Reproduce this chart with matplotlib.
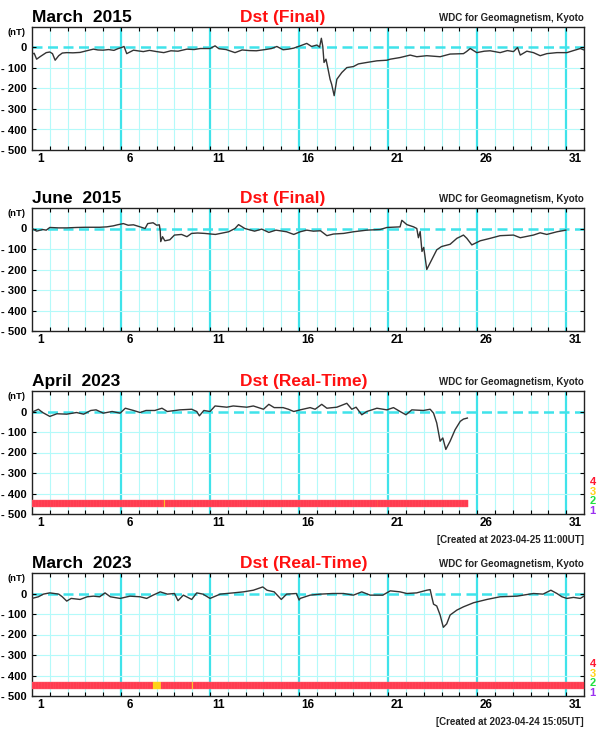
import matplotlib
matplotlib.use('Agg')
import matplotlib.pyplot as plt
import numpy as np

plt.rcParams['font.family'] = ['Liberation Sans', 'DejaVu Sans']
plt.rcParams['font.weight'] = 'bold'

# (day of month, Dst nT)
mar15 = [(1.0, -33), (1.12, -28), (1.26, -57), (1.45, -45), (1.8, -25), (2.0, -22), (2.15, -30),
         (2.3, -62), (2.5, -40), (2.7, -27), (2.95, -25), (3.3, -26), (3.7, -24), (4.07, -16),
         (4.45, -8), (4.7, -12), (5.0, -13), (5.3, -10), (5.6, -14), (5.85, -5), (6.03, 0), (6.17, 5),
         (6.32, -30), (6.7, -13), (7.0, -17), (7.25, -20), (7.6, -14), (8.0, -20), (8.4, -25),
         (8.8, -16), (9.2, -18), (9.7, -8), (10.1, -10), (10.45, -5), (11.0, -5), (11.28, 8),
         (11.5, -6), (11.9, -10), (12.4, -25), (12.8, -12), (13.2, -15), (13.6, -16), (14.1, -10),
         (14.45, -5), (14.75, 5), (15.1, -11), (15.4, -8), (15.7, -3), (16.06, 8), (16.43, 20),
         (16.7, 5), (17.0, 12), (17.15, 2), (17.25, 45), (17.33, 5), (17.4, -73), (17.51, -57),
         (17.59, -90), (17.74, -155), (17.83, -180), (17.97, -235), (18.12, -155), (18.4, -122),
         (18.68, -98), (19.05, -93), (19.33, -80), (19.8, -73), (20.37, -65), (20.93, -62),
         (21.12, -57), (21.67, -49), (22.24, -37), (22.61, -45), (23.17, -40), (23.92, -45),
         (24.48, -32), (25.23, -30), (25.4, -20), (25.61, -5), (25.98, -25), (26.4, -18),
         (26.73, -16), (27.29, -25), (27.7, -15), (28.04, -20), (28.27, 0), (28.42, -37),
         (28.79, -18), (29.16, -25), (29.54, -40), (29.91, -30), (30.48, -25), (31.04, -25),
         (31.41, -15), (31.79, -5), (32.0, -12)]

jun15 = [(1.0, 0), (1.26, -13), (1.6, -5), (1.8, -8), (2.0, 5), (2.5, 3), (2.95, 3), (3.5, 5),
         (4.0, 6), (4.8, 6), (5.2, 8), (5.57, 13), (5.8, 18), (6.13, 24), (6.4, 16), (6.7, 18),
         (7.07, 8), (7.35, 0), (7.5, 24), (7.8, 28), (8.0, 16), (8.15, 18), (8.2, -10), (8.23, -64),
         (8.33, -40), (8.46, -60), (8.74, -55), (9.0, -32), (9.4, -29), (9.7, -40), (9.96, -24),
         (10.3, -22), (10.7, -24), (11.3, -29), (11.7, -22), (12.04, -16), (12.4, 0), (12.6, 19),
         (12.95, 0), (13.5, -13), (13.9, -3), (14.3, -19), (14.7, -8), (15.3, -16), (15.7, -29),
         (16.06, -16), (16.43, -8), (16.8, -13), (17.2, -11), (17.56, -35), (17.93, -27),
         (18.5, -24), (19.05, -16), (19.8, -8), (20.55, -5), (20.93, 5), (21.67, 8), (21.77, 40),
         (22.05, 19), (22.43, 8), (22.61, 0), (22.7, -45), (22.8, -15), (22.9, -112), (23.0, -92),
         (23.17, -200), (23.45, -152), (23.73, -104), (24.0, -88), (24.48, -77), (24.86, -48),
         (25.05, -40), (25.23, -32), (25.42, -48), (25.7, -80), (26.17, -60), (26.73, -48),
         (27.29, -35), (28.04, -32), (28.42, -45), (29.16, -32), (29.54, -21), (29.91, -29),
         (30.48, -16), (30.98, -8)]

apr23 = [(1.0, -3), (1.36, 11), (1.6, -5), (2.0, -24), (2.4, -11), (2.95, -13), (3.5, -5),
         (3.9, -13), (4.3, 5), (4.6, 8), (5.0, -8), (5.5, 0), (5.95, -8), (6.24, 16), (6.7, 5),
         (7.07, -5), (7.4, 5), (7.9, 5), (8.3, 16), (8.6, 0), (9.3, 8), (9.97, 11), (10.25, 0),
         (10.4, -21), (10.65, 5), (11.0, 0), (11.28, 27), (11.94, 21), (12.3, 27), (13.06, 21),
         (13.43, 27), (14.0, 11), (14.3, 35), (14.6, 19), (15.1, 19), (15.4, 11), (15.7, 0),
         (16.06, 8), (16.62, 19), (16.9, 11), (17.27, 35), (17.56, 16), (18.12, 21), (18.68, 40),
         (18.96, 11), (19.2, 21), (19.52, -16), (19.8, 0), (20.37, 16), (20.93, 8), (21.3, 19),
         (21.67, 0), (22.0, -16), (22.33, 8), (22.98, 5), (23.36, 11), (23.55, -8), (23.73, -56),
         (23.92, -145), (24.07, -129), (24.24, -185), (24.48, -145), (24.76, -89), (25.05, -48),
         (25.23, -37), (25.45, -32)]

mar23 = [(1.0, -24), (1.36, -16), (1.64, -3), (2.0, 3), (2.5, -3), (2.7, -16), (2.95, -37),
         (3.2, -24), (3.7, -29), (4.1, -16), (4.45, -13), (4.8, -16), (5.1, 3), (5.4, -16),
         (5.95, -24), (6.5, -13), (7.07, -16), (7.44, -24), (7.8, -8), (8.2, 8), (8.6, -3),
         (9.0, 0), (9.2, -35), (9.5, -8), (9.97, -29), (10.25, 3), (10.6, -3), (11.0, -24),
         (11.57, -3), (12.3, 3), (12.87, 8), (13.43, 16), (13.96, 32), (14.2, 16), (14.6, 8),
         (15.0, -29), (15.3, -3), (15.85, 0), (16.0, -32), (16.06, -24), (16.62, -8), (17.2, -3),
         (17.9, 0), (18.5, 0), (19.05, -8), (19.52, 8), (19.99, -8), (20.7, -8), (21.12, 13),
         (21.67, 8), (22.05, 0), (22.6, 3), (23.17, 16), (23.36, 19), (23.45, -16), (23.55, -52),
         (23.73, -61), (23.92, -105), (24.1, -165), (24.29, -148), (24.48, -105), (24.86, -81),
         (25.23, -65), (25.8, -45), (26.55, -29), (27.29, -16), (28.23, -13), (29.16, 0),
         (29.7, -3), (30.14, 16), (30.48, 0), (30.76, -16), (31.04, -24), (31.41, -19),
         (31.79, -24), (32.0, -13)]

# quality flag changes (day, level) and the day the strip ends
apr23_flags = [(1.0, 4), (8.4, 3), (8.44, 4), (20.4, 3), (20.44, 4)]
apr23_flag_end = 25.46
mar23_flags = [(1.0, 4), (7.78, 3), (8.23, 4), (10.0, 3), (10.04, 4)]
mar23_flag_end = 32.0

panels = [
    ('March  2015', 'Dst (Final)', mar15, None, None, None),
    ('June  2015', 'Dst (Final)', jun15, None, None, None),
    ('April  2023', 'Dst (Real-Time)', apr23, apr23_flags, apr23_flag_end,
     '[Created at 2023-04-25 11:00UT]'),
    ('March  2023', 'Dst (Real-Time)', mar23, mar23_flags, mar23_flag_end,
     '[Created at 2023-04-24 15:05UT]'),
]

day_labels = [1, 6, 11, 16, 21, 26, 31]
yticks = [0, -100, -200, -300, -400, -500]
flag_colors = {4: '#ff1530', 3: '#ffd21a', 2: '#20e040', 1: '#9a30f0'}

W, H = 601, 730
fig = plt.figure(figsize=(W / 100, H / 100), dpi=100)
tops = [27, 208, 391, 573]
axh = 123

thin = '#b4fafa'
thick = '#3fe3ea'

for (month, kind, data, flags, flag_end, created), top in zip(panels, tops):
    ax = fig.add_axes([32 / W, 1 - (top + axh) / H, 552 / W, axh / H])
    ax.set_xlim(1, 32)
    ax.set_ylim(-500, 100)

    for d in range(2, 32):
        if d in day_labels[1:]:
            ax.axvline(d, color=thick, lw=1.6, zorder=1)
        else:
            ax.axvline(d, color=thin, lw=0.8, zorder=1)
    for yv in [-100, -200, -300, -400]:
        ax.axhline(yv, color=thin, lw=0.8, zorder=1)
    ax.axhline(0, color=thick, lw=1.8, ls=(0, (4, 2.2)), zorder=1)

    t = [p[0] for p in data]
    v = [p[1] for p in data]
    ax.plot(t, v, color='#333333', lw=1.0, zorder=3)

    if flags:
        starts = np.arange(1.0, flag_end - 1e-6, 1 / 24)
        for s in starts:
            lvl = [f[1] for f in flags if f[0] <= s + 1e-6][-1]
            ax.broken_barh([(s, 1 / 24)], (-464, 33), facecolors=flag_colors[lvl],
                           edgecolors='#ff6a78' if lvl == 4 else flag_colors[lvl],
                           linewidth=0.25, zorder=4)
        for i, lvl in enumerate([4, 3, 2, 1]):
            ax.text(1.0155, 0.26 - i * 0.078, str(lvl), transform=ax.transAxes,
                    color=flag_colors[lvl], fontsize=8, fontweight='bold', ha='center',
                    va='center')
        ax.text(1.0, -29 / axh, created, transform=ax.transAxes, ha='right',
                va='baseline', fontsize=7, fontweight='bold', color='#222222')

    ax.set_xticks([d + 0.5 for d in day_labels])
    ax.set_xticklabels([str(d) for d in day_labels], fontsize=8.5, fontweight='bold')
    ax.set_xticks(range(2, 32), minor=True)
    ax.tick_params(axis='x', which='major', length=0, pad=2.5)
    ax.tick_params(axis='x', which='minor', direction='in', length=3, top=True, width=0.8)
    ax.set_yticks(yticks)
    ax.set_yticklabels(['0' if y == 0 else '- %d' % -y for y in yticks], fontsize=8,
                       fontweight='bold')
    ax.tick_params(axis='y', direction='in', length=3, right=True, pad=4, width=0.8)
    for sp in ax.spines.values():
        sp.set_color('#222222')
        sp.set_linewidth(1.0)

    ax.text(-0.012, 75, '(nT)', transform=ax.get_yaxis_transform(), ha='right',
            va='center', fontsize=6.8, fontweight='bold')
    ax.text(0.0, 1 + 5 / axh, month, transform=ax.transAxes, ha='left', va='baseline',
            fontsize=12.5, fontweight='bold', color='black')
    ax.text(208 / 552, 1 + 5 / axh, kind, transform=ax.transAxes, ha='left',
            va='baseline', fontsize=12.5, fontweight='bold', color='#ff1010')
    ax.text(1.0, 1 + 6 / axh, 'WDC for Geomagnetism, Kyoto', transform=ax.transAxes,
            ha='right', va='baseline', fontsize=7, fontweight='bold', color='#222222')

fig.savefig('out.png', dpi=100)
